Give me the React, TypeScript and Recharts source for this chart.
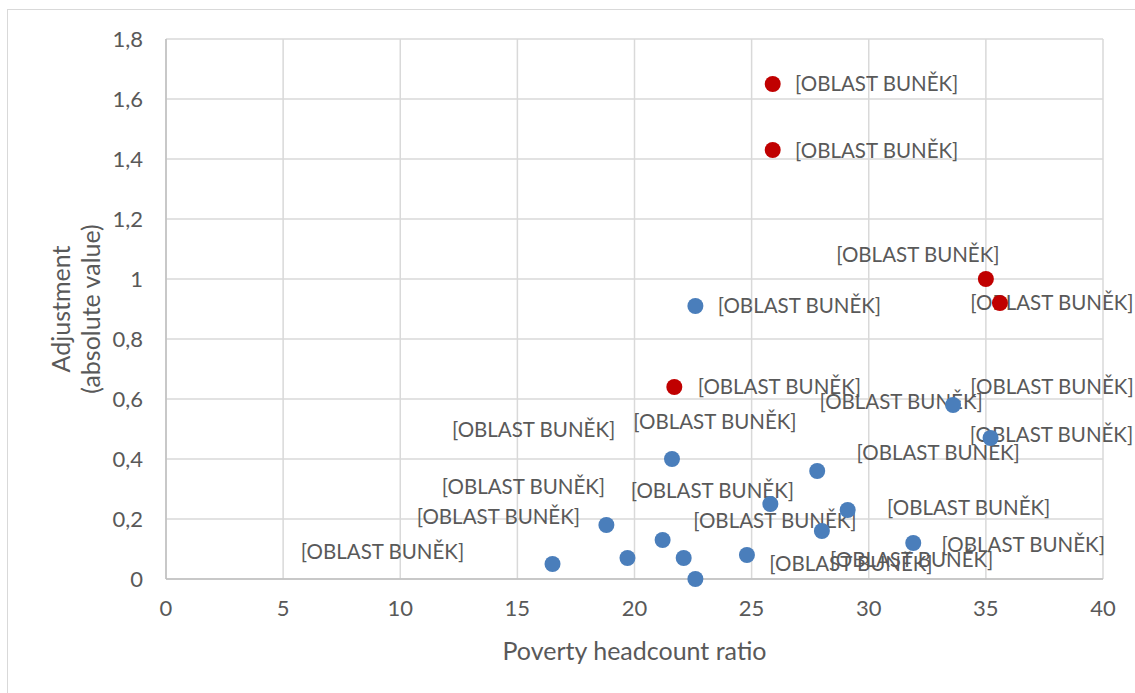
import { ScatterChart, Scatter, XAxis, YAxis, CartesianGrid, Label } from 'recharts';

// blue series (regular areas)
const blueX = [16.5, 18.8, 19.7, 21.2, 21.6, 22.1, 22.6, 22.6, 24.8, 25.8, 27.8, 28.0, 29.1, 31.9, 33.6, 35.2];
const blueY = [0.05, 0.18, 0.07, 0.13, 0.4, 0.07, 0.0, 0.91, 0.08, 0.25, 0.36, 0.16, 0.23, 0.12, 0.58, 0.47];

// red series (highlighted areas)
const redX = [25.9, 25.9, 35.0, 35.6, 21.7];
const redY = [1.65, 1.43, 1.0, 0.92, 0.64];

const xTicks = [0, 5, 10, 15, 20, 25, 30, 35, 40];
const yTicks = [0, 0.2, 0.4, 0.6, 0.8, 1, 1.2, 1.4, 1.6, 1.8];

const cellLabel = '[OBLAST BUNĚK]';

// label placement relative to each point (px), as dragged in the original
const blueLabelDx = [-170, -108, -104, -129, 43, 228, 357, 104, 104, -58, 121, -47, 121, 110, -52, 61];
const blueLabelDy = [-12, -8, -71, -110, -37, 2, -192, 0, 9, -13, -18, -10, -2, 2, -3, -3];
const redLabelDx = [104, 104, -68, 52, 105];
const redLabelDy = [0, 1, -24, 0, 0];

const blueData = blueX.map((x, i) => ({ x, y: blueY[i], dx: blueLabelDx[i], dy: blueLabelDy[i] }));
const redData = redX.map((x, i) => ({ x, y: redY[i], dx: redLabelDx[i], dy: redLabelDy[i] }));

const FONT = 'Lato, "Open Sans", sans-serif';
const TEXT = '#595959';

const LabelShape = (p: any) => {
    const d = p.payload;
    let cx = p.cx + d.dx;
    // excel keeps labels inside the chart area
    cx = Math.min(cx, 1133 - 81);
    return (
        <text x={cx} y={p.cy + d.dy} dy="0.36em" textAnchor="middle" fill={TEXT} fontSize={20.5} fontFamily={FONT}>
            {cellLabel}
        </text>
    );
};

const dot = (color: string) => (p: any) => <circle cx={p.cx} cy={p.cy} r={8} fill={color} />;

const YTitle = (props: any) => {
    const vb = props.viewBox;
    const cy = vb.y + vb.height / 2;
    return (
        <g fill={TEXT} fontSize={25} fontFamily={FONT}>
            <text x={61} y={cy} textAnchor="middle" dy="0.36em" transform={`rotate(-90, 61, ${cy})`}>
                Adjustment
            </text>
            <text x={91} y={cy} textAnchor="middle" dy="0.36em" transform={`rotate(-90, 91, ${cy})`}>
                (absolute value)
            </text>
        </g>
    );
};

export default function App() {
    return (
        <div style={{ position: 'absolute', left: 0, top: 0, width: 1135, height: 693, background: '#fff' }}>
            <div
                style={{
                    position: 'absolute',
                    left: 7,
                    top: 9,
                    width: 1128,
                    height: 684,
                    borderTop: '1px solid #d9d9d9',
                    borderLeft: '1px solid #d9d9d9',
                    boxSizing: 'border-box',
                }}
            />
            <div style={{ position: 'absolute', left: 0, top: 0 }}>
                <ScatterChart width={1135} height={693} margin={{ top: 39, right: 32, bottom: 0, left: 0 }}>
                    <CartesianGrid stroke="#d9d9d9" strokeWidth={1.5} />
                    <XAxis
                        type="number"
                        dataKey="x"
                        domain={[0, 40]}
                        ticks={xTicks}
                        height={114}
                        tickSize={0}
                        tickMargin={21}
                        stroke="#bfbfbf"
                        strokeWidth={1.5}
                        tick={{ fill: TEXT, fontSize: 22, fontFamily: FONT }}
                    >
                        <Label
                            value="Poverty headcount ratio"
                            position="insideBottom"
                            offset={33}
                            fill={TEXT}
                            fontSize={25}
                            fontFamily={FONT}
                        />
                    </XAxis>
                    <YAxis
                        type="number"
                        dataKey="y"
                        domain={[0, 1.8]}
                        ticks={yTicks}
                        width={166}
                        tickSize={0}
                        tickMargin={23}
                        stroke="#bfbfbf"
                        strokeWidth={1.5}
                        tickFormatter={(v: number) => String(v).replace('.', ',')}
                        tick={{ fill: TEXT, fontSize: 22, fontFamily: FONT }}
                    >
                        <Label content={<YTitle />} />
                    </YAxis>
                    <Scatter data={blueData} shape={LabelShape} isAnimationActive={false} />
                    <Scatter data={redData} shape={LabelShape} isAnimationActive={false} />
                    <Scatter data={blueData} shape={dot('#4a7ebb')} isAnimationActive={false} />
                    <Scatter data={redData} shape={dot('#c00000')} isAnimationActive={false} />
                </ScatterChart>
            </div>
        </div>
    );
}
